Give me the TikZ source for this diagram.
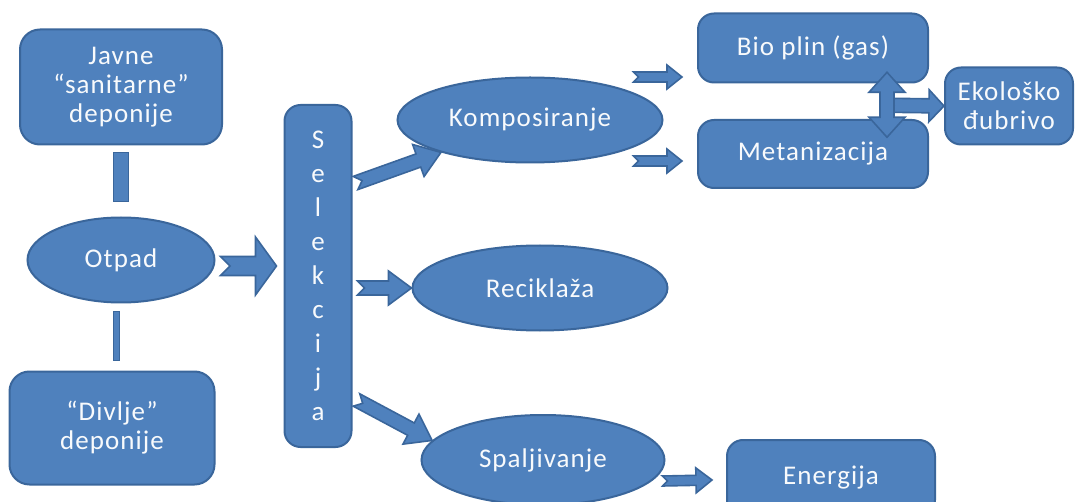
\documentclass[tikz,border=0pt]{standalone}
\usepackage{fontspec}
\setmainfont{Carlito}[LetterSpace=4]
\usetikzlibrary{shapes.geometric,calc}
\definecolor{boxblue}{HTML}{4F81BD}
\definecolor{edgeblue}{HTML}{3A669B}
\tikzset{
  base/.style={fill=boxblue, draw=edgeblue, line width=1pt, text=white!96!boxblue,
    font=\fontsize{13.5}{14.5}\selectfont, align=center, inner sep=0pt},
  box/.style={base, rectangle, rounded corners=10pt},
  oval/.style={base, ellipse},
  fat/.style={fill=boxblue, draw=edgeblue, line width=0.8pt, line join=miter},
  bar/.style={fill=boxblue, draw=edgeblue, line width=0.8pt},
}
% block arrow: #1 tail, #2 tip, #3 half shaft, #4 half head, #5 head length
\newcommand{\fatarrow}[5]{%
  \draw[fat] ($(#1)!#3!90:(#2)$) -- ($(#2)!#5!(#1)!#3!90:(#2)$)
    -- ($(#2)!#5!(#1)!#4!90:(#2)$) -- (#2) -- ($(#2)!#5!(#1)!#4!-90:(#2)$)
    -- ($(#2)!#5!(#1)!#3!-90:(#2)$) -- ($(#1)!#3!-90:(#2)$) -- ($(#1)!#3!(#2)$) -- cycle;}
% two headed block arrow, same arguments
\newcommand{\dblarrow}[5]{%
  \draw[fat] (#1) -- ($(#1)!#5!(#2)!#4!90:(#2)$) -- ($(#1)!#5!(#2)!#3!90:(#2)$)
    -- ($(#2)!#5!(#1)!#3!90:(#2)$) -- ($(#2)!#5!(#1)!#4!90:(#2)$) -- (#2)
    -- ($(#2)!#5!(#1)!#4!-90:(#2)$) -- ($(#2)!#5!(#1)!#3!-90:(#2)$)
    -- ($(#1)!#5!(#2)!#3!-90:(#2)$) -- ($(#1)!#5!(#2)!#4!-90:(#2)$) -- cycle;}
\begin{document}
\begin{tikzpicture}[x=0.5pt,y=-0.5pt]
  \useasboundingbox (0,0) rectangle (1076,502);
  % left column
  \node[box, minimum width=101pt, minimum height=57.5pt] (javne) at (121,87) {Javne\\“sanitarne”\\deponije};
  \node[oval, minimum width=93.5pt, minimum height=42.5pt] (otpad) at (121,260) {Otpad};
  \node[box, minimum width=102.5pt, minimum height=56.5pt] (divlje) at (112,428) {“Divlje”\\deponije};
  \draw[bar] ($(javne.south)+(-7.5,7)$) rectangle ($(otpad.north)+(7.5,-15)$);
  \draw[bar] ($(otpad.south)+(-7.5,8)$) rectangle ($(divlje.north)+(7.5,-10)$);
  % selection
  \node[box, rounded corners=8pt, minimum width=33.5pt, minimum height=171pt, font=\fontsize{13.5}{17}\selectfont] (sel) at (318,276) {S\\e\\l\\e\\k\\c\\i\\j\\a};
  \node[oval, minimum width=132.5pt, minimum height=42.5pt] (komp) at (530,120) {Komposiranje};
  \node[oval, minimum width=127.5pt, minimum height=42.5pt] (rec) at (540,288) {Reciklaža};
  \node[oval, minimum width=121.5pt, minimum height=45pt] (spalj) at (543,460) {Spaljivanje};
  % right side
  \node[box, rounded corners=8pt, minimum width=115pt, minimum height=34.5pt] (bio) at (813,48) {Bio plin (gas)};
  \node[box, rounded corners=8pt, minimum width=115pt, minimum height=34pt] (meta) at (813,154) {Metanizacija};
  \node[box, rounded corners=8pt, minimum width=64pt, minimum height=38.5pt] (eko) at (1009,106) {Ekološko\\đubrivo};
  \node[box, rounded corners=8pt, minimum width=104pt, minimum height=38pt] (energ) at (831,478) {Energija};
  % arrows
  \coordinate (t0) at ($(otpad.east)+(5,6)$);
  \coordinate (h0) at ($(sel.west |- otpad.east)+(-7,6)$);
  \fatarrow{t0}{h0}{4.75pt}{14.5pt}{10.5pt}
  \coordinate (t1) at ($(sel.east)+(3,-93)$);
  \fatarrow{t1}{komp.200}{3.5pt}{8.5pt}{12pt}
  \coordinate (t2) at ($(sel.east |- rec.west)+(5,0)$);
  \fatarrow{t2}{rec.west}{3.5pt}{8.5pt}{11.5pt}
  \coordinate (t3) at ($(sel.east)+(4,124)$);
  \fatarrow{t3}{spalj.170}{3.5pt}{8.5pt}{12pt}
  \coordinate (t4) at ($(komp.east)+(-30,-43)$);
  \coordinate (h4) at ($(bio.west)+(-15,29)$);
  \fatarrow{t4}{h4}{2.5pt}{6pt}{7.5pt}
  \coordinate (t5) at ($(komp.east)+(-30,41)$);
  \coordinate (h5) at ($(meta.west)+(-15,7)$);
  \fatarrow{t5}{h5}{2.5pt}{6pt}{7.5pt}
  \coordinate (t6) at ($(spalj.east)+(-3,21)$);
  \coordinate (h6) at ($(energ.west)+(-14,2)$);
  \fatarrow{t6}{h6}{2.5pt}{6.25pt}{8pt}
  \coordinate (hub) at ($(bio.south)!0.5!(meta.north)+(74,4)$);
  \coordinate (hubtop) at ($(hub)+(0,-33)$);
  \coordinate (hubbot) at ($(hub)+(0,32)$);
  \fatarrow{hub}{eko.west}{3.5pt}{8pt}{7.5pt}
  \dblarrow{hubtop}{hubbot}{3.5pt}{9pt}{10pt}
\end{tikzpicture}
\end{document}
